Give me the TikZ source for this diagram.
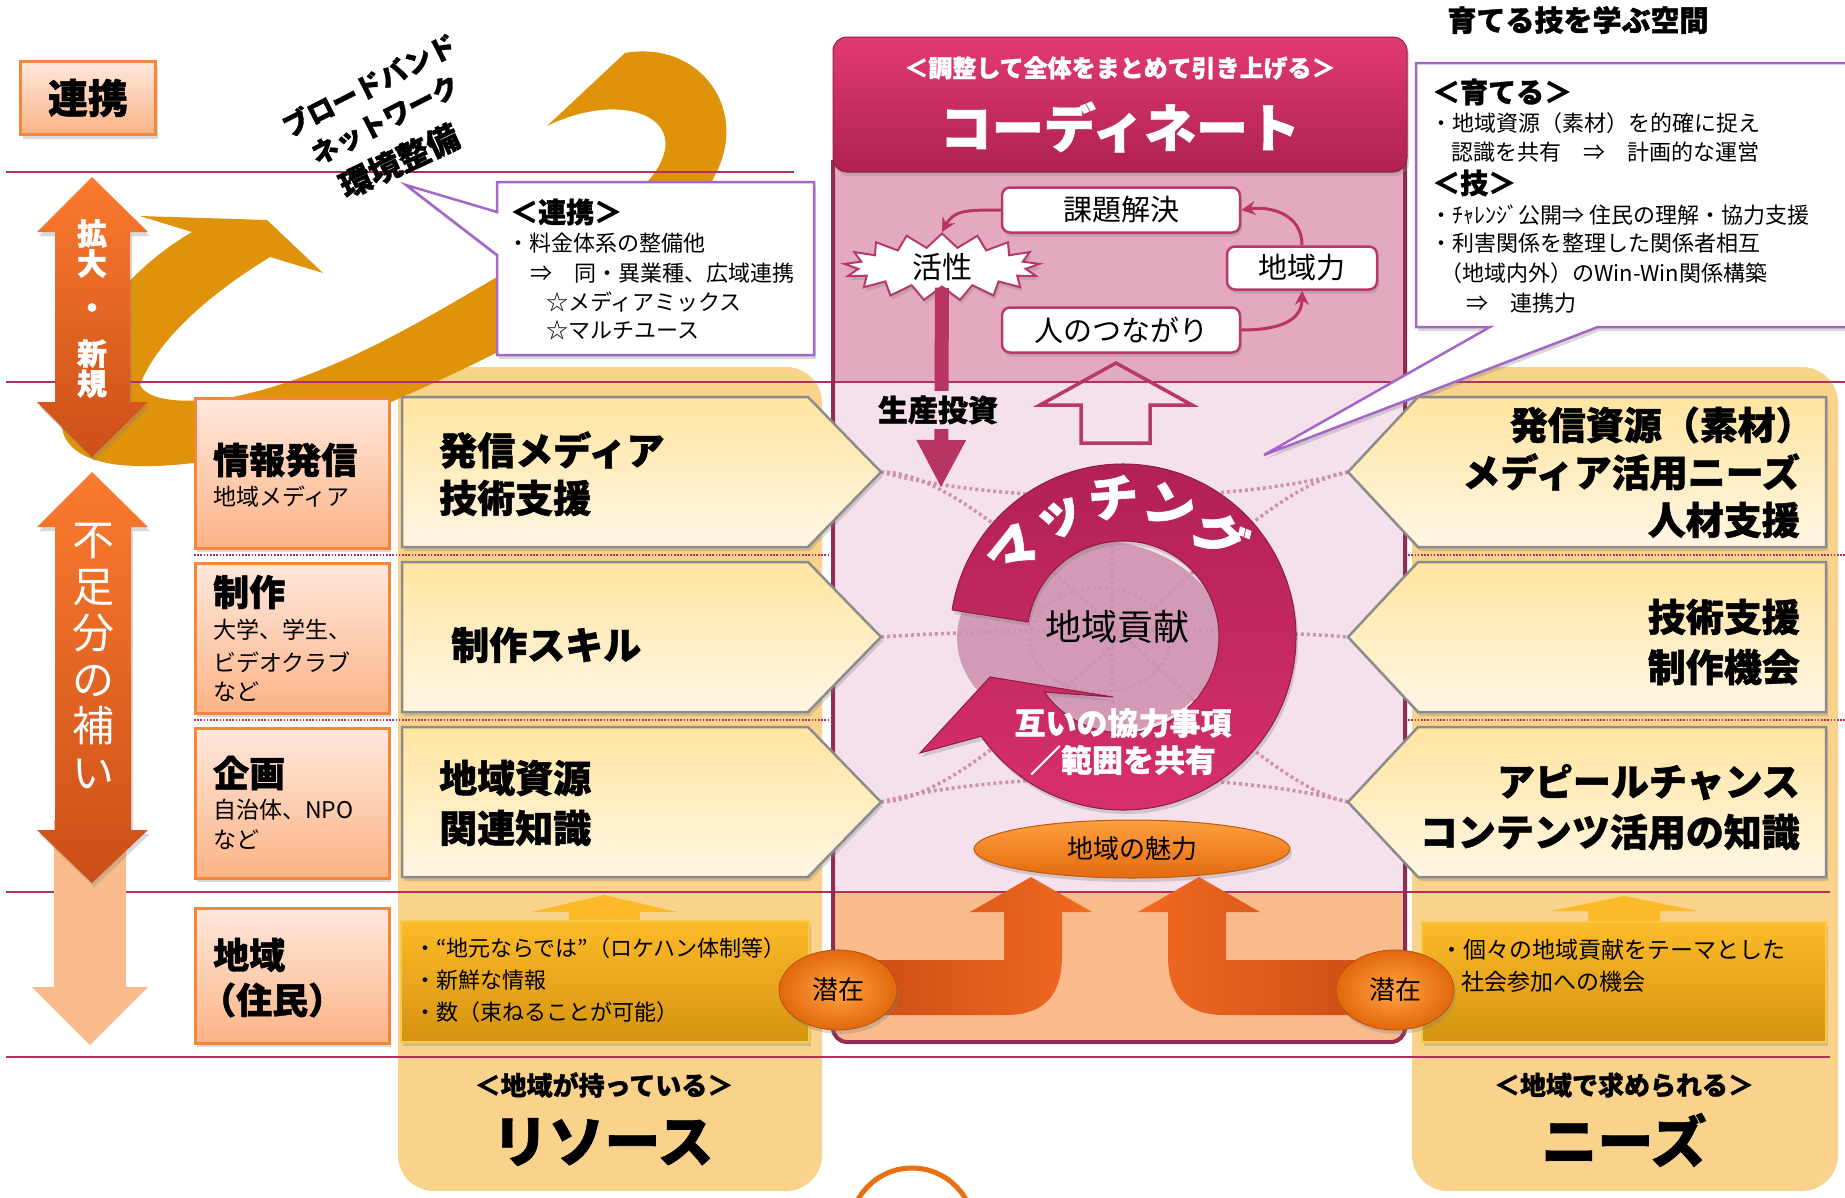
\documentclass[tikz,border=0pt]{standalone}
\usepackage{fontspec}
\setmainfont{Noto Sans CJK JP}[BoldFeatures={FakeBold=1.2}]
\usetikzlibrary{shapes.symbols,shapes.geometric,arrows.meta,shadows,decorations.text}
\newcommand{\myfs}[1]{\fontsize{#1}{#1}\selectfont}
\definecolor{crim}{HTML}{B03060}
\definecolor{swoosh}{HTML}{DF930B}
\definecolor{colbg}{HTML}{F9D38B}
\definecolor{cattop}{HTML}{FFE8DC}
\definecolor{catbot}{HTML}{FBB386}
\definecolor{catb}{HTML}{F5873A}
\definecolor{pentop}{HTML}{FFE5A0}
\definecolor{penbot}{HTML}{FFF6E4}
\definecolor{penb}{HTML}{8C8C8C}
\definecolor{pnlup}{HTML}{E3AABF}
\definecolor{pnlmid}{HTML}{F5E1EC}
\definecolor{pnllow}{HTML}{F9BB8C}
\definecolor{pborder}{HTML}{922C55}
\definecolor{hdtop}{HTML}{E23A75}
\definecolor{hdbot}{HTML}{AE2150}
\definecolor{wboxb}{HTML}{B8386A}
\definecolor{crim2}{HTML}{B83462}
\definecolor{ringtop}{HTML}{B02054}
\definecolor{ringbot}{HTML}{D8306E}
\definecolor{ringb}{HTML}{8E1C45}
\definecolor{diskc}{HTML}{D39AB6}
\definecolor{webc}{HTML}{CD92AF}
\definecolor{goldtop}{HTML}{FCBB2A}
\definecolor{goldbot}{HTML}{D4930F}
\definecolor{goldb}{HTML}{F8C94A}
\definecolor{orA}{HTML}{F26A22}
\definecolor{orB}{HTML}{C84A12}
\definecolor{senin}{HTML}{FFA445}
\definecolor{senout}{HTML}{E2680C}
\definecolor{callb}{HTML}{A466C8}
\definecolor{artop}{HTML}{FA7B2E}
\definecolor{arbot}{HTML}{CC4F18}
\definecolor{peacharr}{HTML}{F9BB8B}
\definecolor{yelarr}{HTML}{FDBA28}
\definecolor{mirtop}{HTML}{FFA040}
\definecolor{mirbot}{HTML}{E26A0E}
\definecolor{arcor}{HTML}{E8700E}
\tikzset{
  hline/.style={draw=crim, line width=2.5pt},
  dline/.style={draw=crim, line width=2.2pt, dash pattern=on 1.6pt off 1.6pt},
  web/.style={draw=webc, line width=3.5pt, dash pattern=on 3pt off 3pt},
  shd/.style={drop shadow={opacity=0.3, shadow xshift=2pt, shadow yshift=-4pt}},
  catbox/.style={draw=catb, line width=2.5pt, top color=cattop, bottom color=catbot, shd, inner sep=0pt, anchor=north west},
  penta/.style={draw=penb, line width=2.5pt, top color=pentop, bottom color=penbot, shd},
  txt/.style={inner sep=0pt},
  bigt/.style={txt, font=\bfseries\myfs{38}},
  cat/.style={txt, anchor=west, font=\bfseries\myfs{36}},
  catsub/.style={txt, anchor=west, font=\myfs{23}},
  call/.style={fill=white, draw=callb, line width=2.5pt, shd},
  calltxt/.style={txt, anchor=west, font=\myfs{22}},
  callhd/.style={txt, anchor=west, font=\bfseries\myfs{28}},
  wbox/.style={fill=white, draw=wboxb, line width=2.5pt, rounded corners=8pt, shd, font=\myfs{29}, inner sep=0pt},
  carrow/.style={draw=crim2, line width=3pt, -{Stealth[length=14pt,width=14pt]}},
  gold/.style={top color=goldtop, bottom color=goldbot, draw=goldb, line width=2pt, shd},
  goldtxt/.style={txt, anchor=west, font=\myfs{22}},
  sen/.style={ellipse, minimum width=118pt, minimum height=80pt, inner sep=0pt, inner color=senin, outer color=senout, draw=senout!80!black, line width=0.8pt, shd, font=\myfs{26}},
  leftarr/.style={top color=artop, bottom color=arbot, shd},
  bottomhd/.style={txt, font=\bfseries\myfs{26}},
  bottombig/.style={txt, font=\bfseries\myfs{56}},
  bbtxt/.style={txt, font=\bfseries\myfs{27}, rotate=27},
}
\begin{document}
\begin{tikzpicture}[x=1pt,y=-1pt]
\useasboundingbox (0,0) rectangle (1845,1197);
\fill[white] (0,0) rectangle (1845,1197);

% columns
\fill[colbg, rounded corners=36pt] (398,367) rectangle (822,1191);
\fill[colbg, rounded corners=36pt] (1412,367) rectangle (1838,1191);

% swoosh
\fill[swoosh] (625,53) .. controls (700,40) and (750,110) .. (715,175)
  .. controls (670,270) and (520,345) .. (400,398)
  .. controls (300,445) and (200,472) .. (120,465)
  .. controls (75,460) and (58,440) .. (62,415)
  .. controls (66,360) and (110,280) .. (192,232)
  -- (140,216) -- (267,220) -- (323,273) -- (270,257)
  .. controls (200,300) and (155,345) .. (140,385)
  .. controls (150,405) and (200,402) .. (233,397)
  .. controls (330,377) and (420,322) .. (497,277)
  .. controls (590,225) and (655,195) .. (665,150)
  .. controls (672,110) and (610,95) .. (547,126) -- cycle;

% center panel fills
\fill[pnlmid] (833,150) rectangle (1405,892);
\fill[pnlup] (833,150) rectangle (1405,382);
\fill[pnllow] (833,892) rectangle (1405,1010);
\fill[pnllow, rounded corners=14pt] (833,980) rectangle (1405,1042);

% horizontal lines
\draw[hline] (6,172) -- (794,172);
\draw[hline] (6,382) -- (1845,382);
\draw[hline] (6,892) -- (1830,892);
\draw[hline] (6,1057) -- (1830,1057);
\draw[dline] (194,555) -- (832,555);
\draw[dline] (1405,555) -- (1845,555);
\draw[dline] (194,720) -- (832,720);
\draw[dline] (1405,720) -- (1845,720);

% disk and web
\fill[diskc] (1090,638) ellipse [x radius=133, y radius=98];
\draw[web] (881,472) .. controls (1000,470) and (1230,780) .. (1348,802);
\draw[web] (881,802) .. controls (1000,800) and (1230,490) .. (1348,472);
\draw[web] (881,637) .. controls (1000,628) and (1240,628) .. (1348,637);
\draw[web] (881,472) .. controls (1000,505) and (1230,505) .. (1348,472);
\draw[web] (881,802) .. controls (1000,770) and (1230,770) .. (1348,802);
\draw[web] (1112,545) -- (1112,735);
\draw[web] (1100,640) ellipse [x radius=70, y radius=52];

% ring arrow
\path[top color=ringtop, bottom color=ringbot, draw=ringb, line width=1pt, shd]
  ([shift={(1123,637)}]-171:173) arc[start angle=-171, end angle=145, radius=173]
  -- (920,753) -- (990,677) -- (1113,697)
  -- ([shift={(1123,637)}]145:96) arc[start angle=145, end angle=-171, radius=96] -- cycle;
\path[decorate, decoration={text along path, text={|\bfseries\myfs{50}|マッチング}, text align=center, text color=white}]
  ([shift={(1123,637)}]-164:121) arc[start angle=-164, end angle=-24, radius=121];
\node[txt, font=\myfs{36}] (kouken) at (1117,627) {地域貢献};
\node[txt, white, font=\bfseries\myfs{31}] (kyoryoku) at (1123,723) {互いの協力事項};
\node[txt, white, font=\bfseries\myfs{31}] (hani) at (1123,760) {／範囲を共有};

% miryoku
\node[ellipse, minimum width=316pt, minimum height=58pt, top color=mirtop, bottom color=mirbot, draw=mirbot!85!black, line width=1pt, shd, font=\myfs{26}, inner sep=0pt] (miryoku) at (1132,849) {地域の魅力};

% bent arrows
\path[left color=orB, right color=orA] (838,960) -- (1004,960) -- (1004,912) -- (970,912) -- (1031,877) -- (1092,912) -- (1062,912) -- (1062,955) .. controls (1062,995) and (1045,1015) .. (1005,1015) -- (838,1015) -- cycle;
\path[left color=orA, right color=orB] (1392,960) -- (1226,960) -- (1226,912) -- (1260,912) -- (1199,877) -- (1138,912) -- (1168,912) -- (1168,955) .. controls (1168,995) and (1185,1015) .. (1225,1015) -- (1392,1015) -- cycle;

% panel border and header
\draw[pborder, line width=4pt, rounded corners=14pt] (833,160) -- (833,1042) -- (1405,1042) -- (1405,160);
\path[top color=hdtop, bottom color=hdbot, draw=hdbot!85!black, line width=1pt, rounded corners=14pt, shd] (833,37) rectangle (1407,172);
\node[txt, white, font=\bfseries\myfs{24}] (chosei) at (1120,68) {＜調整して全体をまとめて引き上げる＞};
\node[txt, white, font=\bfseries\myfs{52}] (coord) at (1120,127) {コーディネート};

% upper panel contents
\node[wbox, minimum width=238pt, minimum height=45pt] (kadai) at (1121,210) {課題解決};
\node[wbox, minimum width=150pt, minimum height=43pt] (chikara) at (1302,268) {地域力};
\node[wbox, minimum width=238pt, minimum height=45pt] (hito) at (1121,330) {人のつながり};
\node[starburst, starburst points=17, starburst point height=14pt, random starburst=0, fill=white, draw=wboxb, line width=2pt, minimum width=196pt, minimum height=60pt, inner sep=0pt, font=\myfs{30}, shd] (kassei) at (942,267) {活性};
\draw[carrow] (kadai.west) .. controls +(-35,0) and +(12,-22) .. (kassei.north);
\draw[carrow] (chikara.north) .. controls +(0,-32) and +(28,-4) .. (kadai.east);
\draw[carrow] (hito.east) .. controls +(42,0) and +(0,28) .. (chikara.south);
\coordinate (invtip) at (941,488);
\draw[draw=crim2, line width=14pt, -{Triangle[length=48pt,width=46pt]}] (kassei.south) -- (invtip);
\node[txt, font=\bfseries\myfs{30}, fill=pnlmid, inner sep=5pt] (seisan) at (938,410) {生産投資};
\path[draw=wboxb, line width=3.5pt] (1116,363) -- (1192,405) -- (1150,405) -- (1150,443) -- (1081,443) -- (1081,405) -- (1040,405) -- cycle;

% left arrows
\fill[peacharr] (54,820) -- (126,820) -- (126,987) -- (148,987) -- (90,1045) -- (32,987) -- (54,987) -- cycle;
\path[leftarr] (92,472) -- (148,527) -- (131,527) -- (131,830) -- (148,830) -- (92,883) -- (37,830) -- (55,830) -- (55,527) -- (37,527) -- cycle;
\path[leftarr] (92,177) -- (148,232) -- (130,232) -- (130,402) -- (148,402) -- (92,457) -- (37,402) -- (55,402) -- (55,232) -- (37,232) -- cycle;
\node[txt, white, align=center, anchor=north, font=\bfseries\fontsize{30}{30}\selectfont] (kakudai) at (92,219) {拡\\大\\[14pt]・\\[16pt]新\\規};
\node[txt, white, align=center, anchor=north, font=\fontsize{42}{46.5}\selectfont] (fusoku) at (93,523) {不\\足\\分\\の\\補\\い};

% renkei box and broadband text
\node[draw=catb, line width=2.5pt, top color=cattop, bottom color=catbot, shd, minimum width=135pt, minimum height=73pt, inner sep=0pt, font=\bfseries\myfs{40}] (renkei) at (88,98) {連携};
\node[bbtxt] (bb1) at (369,85) {ブロードバンド};
\node[bbtxt] (bb2) at (385,120) {ネットワーク};
\node[bbtxt, font=\bfseries\myfs{32}, rotate=-2] (bb3) at (399,161) {環境整備};

% callouts
\path[call] (497,182) -- (814,182) -- (814,355) -- (497,355) -- (497,255) -- (406,185) -- (497,212) -- cycle;
\node[callhd] (c1) at (510,212) {＜連携＞};
\node[calltxt] (c2) at (507,243) {・料金体系の整備他};
\node[calltxt] (c3) at (530,273) {⇒　同・異業種、広域連携};
\node[calltxt] (c4) at (546,302) {☆メディアミックス};
\node[calltxt] (c5) at (546,330) {☆マルチユース};

\path[call] (1416,63) -- (1850,63) -- (1850,327) -- (1598,327) -- (1264,455) -- (1490,327) -- (1416,327) -- cycle;
\node[callhd] (d1) at (1432,92) {＜育てる＞};
\node[calltxt] (d2) at (1430,123) {・地域資源（素材）を的確に捉え};
\node[calltxt] (d3) at (1451,152) {認識を共有　⇒　計画的な運営};
\node[callhd] (d4) at (1432,183) {＜技＞};
\node[calltxt] (d5) at (1430,215) {・ﾁｬﾚﾝｼﾞ公開⇒ 住民の理解・協力支援};
\node[calltxt] (d6) at (1430,243) {・利害関係を整理した関係者相互};
\node[calltxt] (d7) at (1440,273) {（地域内外）のWin-Win関係構築};
\node[calltxt] (d8) at (1466,303) {⇒　連携力};

% category boxes
\node[catbox, minimum width=194pt, minimum height=150pt] (b1) at (194,397) {};
\node[catbox, minimum width=194pt, minimum height=150pt] (b2) at (194,562) {};
\node[catbox, minimum width=194pt, minimum height=150pt] (b3) at (194,727) {};
\node[catbox, minimum width=194pt, minimum height=135pt] (b4) at (194,907) {};
\node[cat] (t1) at (213,460) {情報発信};
\node[catsub] (t1s) at (213,497) {地域メディア};
\node[cat] (t2) at (213,592) {制作};
\node[catsub] (t2a) at (213,630) {大学、学生、};
\node[catsub] (t2b) at (213,662) {ビデオクラブ};
\node[catsub] (t2c) at (213,692) {など};
\node[cat] (t3) at (213,773) {企画};
\node[catsub] (t3a) at (213,810) {自治体、NPO};
\node[catsub] (t3b) at (213,840) {など};
\node[cat] (t4) at (213,955) {地域};
\node[cat] (t4b) at (200,1000) {（住民）};

% pentagons left
\path[penta] (402,397) -- (808,397) -- (881,472) -- (808,547) -- (402,547) -- cycle;
\path[penta] (402,562) -- (808,562) -- (881,637) -- (808,712) -- (402,712) -- cycle;
\path[penta] (402,727) -- (808,727) -- (881,802) -- (808,877) -- (402,877) -- cycle;
\node[bigt, anchor=west] (p1a) at (439,450) {発信メディア};
\node[bigt, anchor=west] (p1b) at (439,498) {技術支援};
\node[bigt, anchor=west] (p2a) at (451,645) {制作スキル};
\node[bigt, anchor=west] (p3a) at (439,778) {地域資源};
\node[bigt, anchor=west] (p3b) at (439,828) {関連知識};
% pentagons right
\path[penta] (1826,397) -- (1418,397) -- (1348,472) -- (1418,547) -- (1826,547) -- cycle;
\path[penta] (1826,562) -- (1418,562) -- (1348,637) -- (1418,712) -- (1826,712) -- cycle;
\path[penta] (1826,727) -- (1418,727) -- (1348,802) -- (1418,877) -- (1826,877) -- cycle;
\node[bigt, anchor=east] (q1a) at (1814,425) {発信資源（素材）};
\node[bigt, anchor=east] (q1b) at (1800,472) {メディア活用ニーズ};
\node[bigt, anchor=east] (q1c) at (1800,520) {人材支援};
\node[bigt, anchor=east] (q2a) at (1800,617) {技術支援};
\node[bigt, anchor=east] (q2b) at (1800,667) {制作機会};
\node[bigt, anchor=east] (q3a) at (1800,782) {アピールチャンス};
\node[bigt, anchor=east] (q3b) at (1800,832) {コンテンツ活用の知識};

% golden boxes
\fill[yelarr] (531,912) -- (604,895) -- (678,912) -- (640,912) -- (640,924) -- (569,924) -- (569,912) -- cycle;
\fill[yelarr] (1551,911) -- (1624,896) -- (1698,911) -- (1660,911) -- (1660,924) -- (1588,924) -- (1588,911) -- cycle;
\path[gold] (401,921) rectangle (809,1042);
\path[gold] (1422,922) rectangle (1826,1042);
\node[goldtxt] (g1) at (414,948) {・“地元ならでは”（ロケハン体制等）};
\node[goldtxt] (g2) at (414,980) {・新鮮な情報};
\node[goldtxt] (g3) at (414,1012) {・数（束ねることが可能）};
\node[goldtxt, font=\myfs{23}] (h1) at (1440,950) {・個々の地域貢献をテーマとした};
\node[goldtxt, font=\myfs{23}] (h2) at (1461,982) {社会参加への機会};

% latent circles
\node[sen] (sen1) at (838,990) {潜在};
\node[sen] (sen2) at (1395,990) {潜在};

% bottom labels
\node[bottomhd] (r1) at (604,1085) {＜地域が持っている＞};
\node[bottombig] (r2) at (603,1142) {リソース};
\node[bottomhd] (n1) at (1624,1085) {＜地域で求められる＞};
\node[bottombig] (n2) at (1624,1140) {ニーズ};
\begin{scope}
\clip (0,0) rectangle (1845,1197);
\draw[arcor, line width=5pt] (912,1230) circle[radius=62];
\end{scope}

\node[txt, font=\bfseries\myfs{29}] (sodateru) at (1578,20) {育てる技を学ぶ空間};
\end{tikzpicture}
\end{document}
